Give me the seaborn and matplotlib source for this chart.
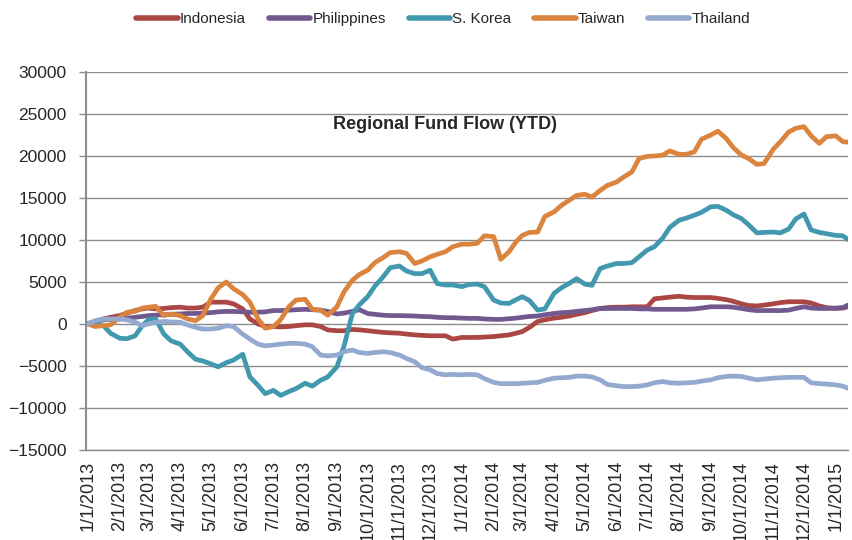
import matplotlib
matplotlib.use("Agg")
import pandas as pd
import matplotlib.pyplot as plt
import seaborn as sns

# sample dates: roughly weekly (1st, 8th, 16th, 23rd of each month)
dates = [pd.Timestamp(y, m, d) for y in (2013, 2014) for m in range(1, 13) for d in (1, 8, 16, 23)]
dates += [pd.Timestamp(2015, 1, 1), pd.Timestamp(2015, 1, 8), pd.Timestamp(2015, 1, 13)]

indonesia = [
    0, 300, 600, 800, 1000, 1300, 1600, 1800, 1900, 1800, 1850, 1950,
    2000, 1900, 1900, 2000, 2600, 2600, 2600, 2400, 1800, 600, 0, -300,
    -300, -350, -300, -200, -100, -100, -300, -700, -800, -800, -650, -700,
    -800, -900, -1000, -1050, -1100, -1200, -1300, -1350, -1400, -1400, -1400, -1800,
    -1600, -1600, -1600, -1550, -1500, -1400, -1300, -1100, -900, -400, 300, 500,
    700, 800, 950, 1150, 1350, 1600, 1850, 1950, 2000, 2000, 2050, 2050,
    2050, 3000, 3100, 3200, 3300, 3200, 3150, 3150, 3150, 3050, 2900, 2700,
    2400, 2200, 2150, 2250, 2400, 2550, 2650, 2650, 2650, 2500, 2150, 1950,
    1850, 1900, 2050,
]
philippines = [
    0, 300, 500, 550, 600, 700, 800, 900, 1000, 1050, 1100, 1150,
    1200, 1250, 1250, 1300, 1350, 1450, 1500, 1500, 1450, 1400, 1400, 1450,
    1600, 1600, 1650, 1700, 1750, 1700, 1650, 1500, 1200, 1300, 1500, 1700,
    1250, 1150, 1050, 1000, 1000, 980, 950, 900, 870, 800, 750, 750,
    700, 670, 670, 600, 550, 550, 630, 700, 800, 900, 950, 1100,
    1250, 1350, 1400, 1500, 1600, 1700, 1850, 1850, 1850, 1850, 1850, 1800,
    1800, 1750, 1750, 1750, 1750, 1750, 1800, 1900, 2050, 2050, 2050, 2000,
    1850, 1700, 1600, 1600, 1600, 1600, 1650, 1850, 2050, 1900, 1850, 1850,
    1900, 1950, 2250,
]
s_korea = [
    100, 100, -200, -1100, -1700, -1750, -1400, -200, 500, 600, -1200, -2000,
    -2400, -3300, -4200, -4400, -4750, -5100, -4600, -4300, -3600, -6300, -7300, -8300,
    -7900, -8500, -8050, -7700, -7050, -7400, -6700, -6300, -5100, -2600, 1200, 2300,
    3250, 4500, 5600, 6700, 6900, 6300, 6000, 6000, 6400, 4800, 4650, 4650,
    4450, 4700, 4750, 4450, 2850, 2500, 2450, 2900, 3250, 2800, 1650, 1800,
    3650, 4300, 4850, 5400, 4750, 4600, 6600, 6900, 7200, 7200, 7300, 8000,
    8800, 9200, 10200, 11500, 12350, 12600, 12950, 13300, 13950, 14000, 13550, 13000,
    12550, 11800, 10850, 10900, 10950, 10850, 11300, 12500, 13100, 11200, 10900, 10750,
    10550, 10500, 10050,
]
taiwan = [
    0, -300, -200, -100, 800, 1400, 1500, 1900, 2000, 2100, 1000, 1200,
    1000, 600, 400, 1000, 3000, 4300, 5000, 4200, 3500, 2600, 600, -500,
    -300, 500, 2050, 2850, 2950, 1750, 1650, 1050, 2050, 3850, 5200, 5900,
    6400, 7300, 7900, 8500, 8600, 8400, 7200, 7500, 8000, 8300, 8600, 9200,
    9500, 9500, 9600, 10500, 10400, 7700, 8600, 9800, 10550, 10900, 10950, 12800,
    13350, 14100, 14750, 15300, 15450, 15100, 15900, 16500, 16900, 17500, 18100, 19700,
    19950, 20000, 20100, 20600, 20200, 20200, 20500, 22000, 22500, 22950, 22100, 21000,
    20100, 19700, 19000, 19100, 20800, 21700, 22850, 23300, 23500, 22400, 21500, 22300,
    22400, 21700, 21650,
]
thailand = [
    0, 400, 600, 600, 600, 500, 200, -200, 0, 200, 300, 250,
    200, -100, -400, -600, -600, -500, -200, -300, -1200, -1800, -2400, -2600,
    -2500, -2400, -2300, -2300, -2400, -2700, -3700, -3800, -3700, -3300, -3100, -3400,
    -3500, -3400, -3300, -3400, -3700, -4100, -4500, -5200, -5450, -5900, -6050, -6000,
    -6050, -6000, -6050, -6500, -6950, -7100, -7100, -7100, -7050, -7000, -6950, -6700,
    -6450, -6400, -6350, -6200, -6200, -6300, -6650, -7200, -7350, -7450, -7450, -7400,
    -7250, -7000, -6850, -7000, -7050, -7000, -6950, -6800, -6650, -6400, -6250, -6200,
    -6250, -6450, -6650, -6550, -6450, -6400, -6350, -6350, -6350, -7000, -7100, -7150,
    -7250, -7400, -7650,
]

countries = ["Indonesia", "Philippines", "S. Korea", "Taiwan", "Thailand"]
colors = ["#AA4643", "#71588F", "#4198AF", "#DB843D", "#93A9CF"]
series = [indonesia, philippines, s_korea, taiwan, thailand]

df = pd.concat(
    [pd.DataFrame({"date": dates, "flow": vals, "country": name}) for name, vals in zip(countries, series)],
    ignore_index=True,
)

sns.set_style("white")
plt.rcParams["font.family"] = ["Liberation Sans", "DejaVu Sans"]

fig = plt.figure(figsize=(8.53, 5.4), dpi=100)
ax = fig.add_axes([86 / 853, 1 - 450 / 540, 762 / 853, 378 / 540])

sns.lineplot(data=df, x="date", y="flow", hue="country", hue_order=countries,
             palette=colors, linewidth=3.4, ax=ax)

ax.set_xlim(pd.Timestamp(2012, 12, 30), pd.Timestamp(2015, 1, 13))
ax.set_ylim(-15000, 30000)
ax.set_yticks(range(-15000, 30001, 5000))
ax.yaxis.grid(True, color="#8c8c8c", linewidth=1)
ax.set_axisbelow(True)

ticks = pd.date_range("2013-01-01", "2015-01-01", freq="MS")
ax.set_xticks(ticks)
ax.set_xticklabels([f"{t.month}/{t.day}/{t.year}" for t in ticks], rotation=90, fontsize=13)
ax.tick_params(axis="x", length=0, pad=8)
ax.tick_params(axis="y", length=5, width=1, color="#8c8c8c", pad=9, labelsize=12.5, left=True)

for side in ("top", "right"):
    ax.spines[side].set_visible(False)
ax.spines["left"].set_color("#8c8c8c")
ax.spines["left"].set_linewidth(1.5)
ax.spines["bottom"].set_color("#8c8c8c")
ax.spines["bottom"].set_linewidth(1)

ax.set_xlabel("")
ax.set_ylabel("")

ax.text(0.471, 0.86, "Regional Fund Flow (YTD)", transform=ax.transAxes,
        ha="center", va="center", fontsize=13, fontweight="bold")

sns.move_legend(ax, "center", bbox_to_anchor=(0.469, 1.14), ncol=5, frameon=False,
                title=None, fontsize=11, handlelength=2.7, handletextpad=0.15,
                columnspacing=1.5)
for line in ax.get_legend().get_lines():
    line.set_linewidth(4)

fig.savefig("out.png", dpi=100)
